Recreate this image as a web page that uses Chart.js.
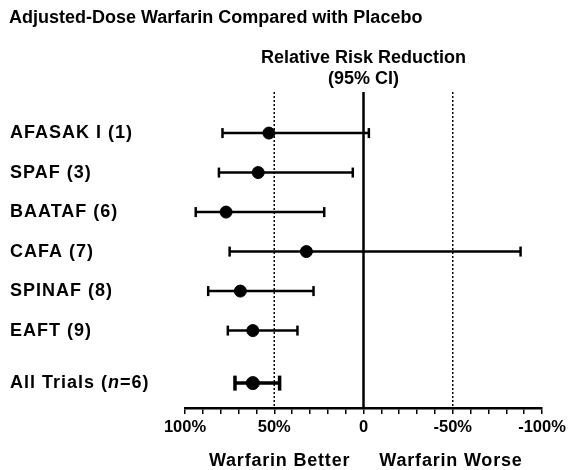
<!DOCTYPE html>
<html>
<head>
<meta charset="utf-8">
<script src="https://cdn.jsdelivr.net/npm/chart.js@4/dist/chart.umd.min.js"></script>
<style>
  html, body { margin: 0; padding: 0; background: #fff; }
  #wrap { width: 572px; height: 470px; position: relative; }
</style>
</head>
<body>
<div id="wrap"><canvas id="c" width="572" height="470"></canvas></div>
<script>
// Trials and their relative risk reduction (%) with 95% CI
const trials = ['AFASAK I (1)', 'SPAF (3)', 'BAATAF (6)', 'CAFA (7)', 'SPINAF (8)', 'EAFT (9)', 'All Trials (n=6)'];
const rrr    = [53, 59, 77, 32, 69, 62, 62];
const ciLow  = [79, 81, 94, 75, 87, 76, 72];   // most favourable end
const ciHigh = [-3, 6, 22, -88, 28, 37, 47];   // least favourable end
// vertical row position of each trial (pooled row set apart)
const rowPos = [0, 1, 2, 3, 4, 5, 6.33];
// x-axis labelled ticks
const tickLabels = { '100': '100%', '50': '50%', '0': '0', '-50': '-50%', '-100': '-100%' };
const refLines = [50, 0, -50];

const FONT = '"Liberation Sans", Arial, Helvetica, sans-serif';
const Y_MIN = -1.04, Y_MAX = 6.96;

const datasets = [];

// reference lines: no effect (solid) and ±50% (dotted)
refLines.forEach(v => {
  datasets.push({
    type: 'line',
    data: [{ x: v, y: Y_MIN }, { x: v, y: Y_MAX }],
    borderColor: '#000',
    borderWidth: v === 0 ? 2.5 : 1.5,
    borderDash: v === 0 ? [] : [2, 2],
    pointRadius: 0,
    order: 3
  });
});

// confidence interval bars with end caps
trials.forEach((name, i) => {
  const pooled = i === trials.length - 1;
  datasets.push({
    type: 'line',
    data: [{ x: ciLow[i], y: rowPos[i] }, { x: ciHigh[i], y: rowPos[i] }],
    borderColor: '#000',
    borderWidth: pooled ? 3.5 : 2.5,
    pointStyle: 'line',
    rotation: 90,
    pointRadius: pooled ? 7.5 : 5,
    pointBorderWidth: pooled ? 3.5 : 2.5,
    pointBorderColor: '#000',
    order: 2
  });
});

// point estimates
datasets.push({
  type: 'scatter',
  data: rrr.map((v, i) => ({ x: v, y: rowPos[i] })),
  backgroundColor: '#000',
  borderColor: '#000',
  pointStyle: 'circle',
  pointRadius: rowPos.map((p, i) => i === trials.length - 1 ? 6.5 : 6),
  order: 1
});

function spaced(ctx, px) {
  if ('letterSpacing' in ctx) ctx.letterSpacing = px + 'px';
}

// draws a label, setting the sample size "n" in italics
function drawTrialLabel(ctx, text, x, y) {
  const parts = text.split(/(\bn(?==))/);
  let cx = x;
  parts.forEach(p => {
    if (!p) return;
    ctx.font = (p === 'n' ? 'italic bold 18px ' : 'bold 18px ') + FONT;
    ctx.fillText(p, cx, y);
    cx += ctx.measureText(p).width;
  });
}

// free text: title, column heading, row labels, direction labels
const annotations = {
  id: 'annotations',
  afterDraw(chart) {
    const ctx = chart.ctx;
    const xs = chart.scales.x;
    const ys = chart.scales.y;
    ctx.save();
    ctx.fillStyle = '#000';
    ctx.textBaseline = 'middle';

    ctx.font = 'bold 18px ' + FONT;
    ctx.textAlign = 'left';
    ctx.fillText('Adjusted-Dose Warfarin Compared with Placebo', 9, 18);

    ctx.textAlign = 'center';
    const cx = xs.getPixelForValue(0);
    ctx.fillText('Relative Risk Reduction', cx, 58);
    ctx.fillText('(95% CI)', cx, 79);

    spaced(ctx, 0.8);
    ctx.fillText('Warfarin Better', xs.getPixelForValue(47), 461);
    ctx.fillText('Warfarin Worse', xs.getPixelForValue(-49), 461);

    spaced(ctx, 1);
    ctx.textAlign = 'left';
    trials.forEach((t, i) => drawTrialLabel(ctx, t, 10, ys.getPixelForValue(rowPos[i])));
    spaced(ctx, 0);
    ctx.restore();
  }
};

new Chart(document.getElementById('c'), {
  data: { datasets },
  options: {
    responsive: false,
    animation: false,
    layout: { padding: { top: 92, left: 10, right: 30, bottom: 0 } },
    plugins: { legend: { display: false }, tooltip: { enabled: false }, title: { display: false } },
    scales: {
      x: {
        type: 'linear',
        reverse: true,
        min: -100,
        max: 100,
        afterFit(s) { s.height = 62; },
        ticks: {
          stepSize: 10,
          autoSkip: false,
          maxRotation: 0,
          padding: 4,
          color: '#000',
          font: { family: FONT, size: 16.5, weight: 'bold' },
          callback: v => tickLabels[String(v)] || ''
        },
        grid: { drawOnChartArea: false, drawTicks: true, tickLength: 6, color: '#000', lineWidth: 1.5 },
        border: { display: true, color: '#000', width: 2.5 }
      },
      y: {
        type: 'linear',
        reverse: true,
        min: Y_MIN,
        max: Y_MAX,
        afterFit(s) { s.width = 175; },
        ticks: { display: false },
        grid: { display: false },
        border: { display: false }
      }
    }
  },
  plugins: [annotations]
});
</script>
</body>
</html>
